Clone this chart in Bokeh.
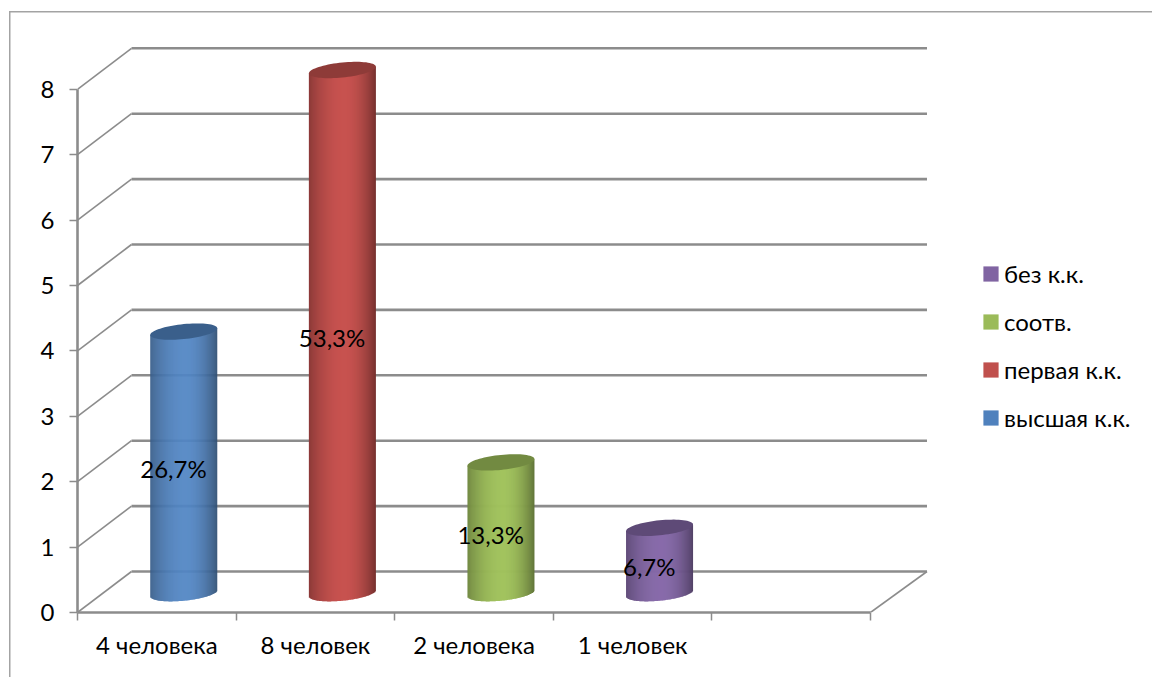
import math
from bokeh.plotting import figure
from bokeh.models import (FixedTicker, Legend, LegendItem, Range1d)
from bokeh.core.properties import value
from bokeh.embed import file_html
from bokeh.resources import INLINE

# ---- data ----
categories = ["4 человека", "8 человек", "2 человека", "1 человек"]
counts = [4, 8, 2, 1]
percent_labels = ["26,7%", "53,3%", "13,3%", "6,7%"]
series_names = ["высшая к.к.", "первая к.к.", "соотв.", "без к.к."]
y_ticks = [0, 1, 2, 3, 4, 5, 6, 7, 8]
category_slots = 5

# ---- style ----
series_colors = ["#4F81BD", "#C0504D", "#9BBB59", "#8064A2"]
GRID = "#8c8c8c"
FRAME = "#a3a3a3"
FONT = "Lato"
FS = "24px"

W, H = 1152, 677
LEFT, BOTTOM = 77, 65
PX_X, PX_Y = 158.6, 65.4  # pixels per data unit

p = figure(width=W, height=H, output_backend="svg", toolbar_location=None,
           x_range=Range1d(0, (W - LEFT) / PX_X),
           y_range=Range1d(0, (H - BOTTOM) / PX_Y),
           min_border_left=LEFT, min_border_bottom=BOTTOM,
           min_border_top=0, min_border_right=0,
           outline_line_color=None,
           background_fill_color=None, border_fill_color=None)
p.grid.visible = False

# chart-area frame sits behind the transparent canvas
p.styles = {"background":
            f"linear-gradient({FRAME},{FRAME}) 9px 11px / 1.5px 666px no-repeat,"
            f"linear-gradient({FRAME},{FRAME}) 9px 11px / 1143px 1.5px no-repeat"}

# 3D depth of the plot box, in data units
DX, DY = 54 / PX_X, 41 / PX_Y
DX_R = 56.5 / PX_X

# side-wall diagonals and back-wall gridlines
p.multi_line([[0, DX] for _ in y_ticks] + [[category_slots, category_slots + DX_R]],
             [[v, v + DY] for v in y_ticks] + [[0, DY]],
             line_color=GRID, line_width=1.6)
p.multi_line([[DX, category_slots + DX_R] for _ in y_ticks],
             [[v + DY, v + DY] for v in y_ticks],
             line_color=GRID, line_width=2.6)


def shade(color, f):
    r, g, b = [int(color[i:i + 2], 16) for i in (1, 3, 5)]
    return "#%02x%02x%02x" % tuple(min(255, int(c * f)) for c in (r, g, b))


def body_factor(u):
    u0 = 0.05
    if u < u0:
        d = (u0 - u) / (1 + u0)
        edge = 0.72
    else:
        d = (u - u0) / (1 - u0)
        edge = 0.60
    return edge + (1.04 - edge) * math.cos(d * math.pi / 2) ** 0.8


RX = 33.5 / PX_X
H_ELL = 7.5 / PX_Y
SKEW = 3.3 / PX_Y
BASE = 0.295
CX = 0.67
STRIPS = 67

legend_renderers = []
for i, (v, col) in enumerate(zip(counts, series_colors)):
    cx = i + CX
    left, right, top, bottom, fills = [], [], [], [], []
    for k in range(STRIPS):
        u0 = -1 + 2 * k / STRIPS
        u1 = -1 + 2 * (k + 1) / STRIPS
        um = (u0 + u1) / 2
        left.append(cx + u0 * RX)
        right.append(cx + u1 * RX + (0.5 / PX_X if k < STRIPS - 1 else 0))
        top.append(v + BASE + SKEW * um)
        bottom.append(BASE + SKEW * um - H_ELL * math.sqrt(max(0, 1 - um * um)))
        fills.append(shade(col, body_factor(um)))
    p.quad(left=left, right=right, top=top, bottom=bottom, fill_color=fills, line_color=None)
    ex, ey = [], []
    for k in range(73):
        a = 2 * math.pi * k / 72
        ex.append(cx + RX * math.cos(a))
        ey.append(v + BASE + SKEW * math.cos(a) + H_ELL * math.sin(a))
    p.patch(ex, ey, fill_color=shade(col, 0.74), line_color=None)
    # zero-area mark that carries the flat series colour for the legend swatch
    legend_renderers.append(p.quad(left=[cx], right=[cx], top=[v], bottom=[v],
                                   fill_color=col, line_color=None))

# data labels
p.text(x=[i + 0.605 for i in range(len(counts))],
       y=[v / 2 + 0.2 for v in counts],
       text=percent_labels, text_align="center", text_baseline="middle",
       text_font=value(FONT), text_font_size=value(FS), text_color="#000000")

# axes
ya = p.yaxis[0]
ya.ticker = FixedTicker(ticks=y_ticks)
ya.bounds = (0, 8)
ya.axis_line_color = GRID
ya.axis_line_width = 2.6
ya.major_tick_line_color = GRID
ya.major_tick_line_width = 1.5
ya.major_tick_out = 8
ya.major_tick_in = 0
ya.minor_tick_line_color = None
ya.major_label_standoff = 15
ya.major_label_text_font = FONT
ya.major_label_text_font_size = FS
ya.major_label_text_color = "#000000"

xa = p.xaxis[0]
xa.ticker = FixedTicker(ticks=[i + 0.5 for i in range(len(categories))],
                        minor_ticks=list(range(category_slots + 1)))
xa.major_label_overrides = {i + 0.5: c for i, c in enumerate(categories)}
xa.bounds = (0, category_slots)
xa.axis_line_color = GRID
xa.axis_line_width = 2.6
xa.major_tick_line_color = None
xa.major_tick_out = 0
xa.major_tick_in = 0
xa.minor_tick_line_color = GRID
xa.minor_tick_line_width = 1.5
xa.minor_tick_out = 8
xa.minor_tick_in = 0
xa.major_label_standoff = 9
xa.major_label_text_font = FONT
xa.major_label_text_font_size = FS
xa.major_label_text_color = "#000000"

# legend, top entry is the last series
items = [LegendItem(label=value(n), renderers=[r]) for n, r in zip(series_names, legend_renderers)]
legend = Legend(items=items[::-1], location=(904, 180), orientation="vertical",
                glyph_width=19, glyph_height=19, label_height=15, label_width=120,
                label_standoff=4, spacing=19, margin=0, padding=0,
                border_line_color=None, background_fill_color=None,
                label_text_font=FONT, label_text_font_size=FS, label_text_color="#000000")
p.add_layout(legend)

open("out.html", "w").write(file_html(p, INLINE))
